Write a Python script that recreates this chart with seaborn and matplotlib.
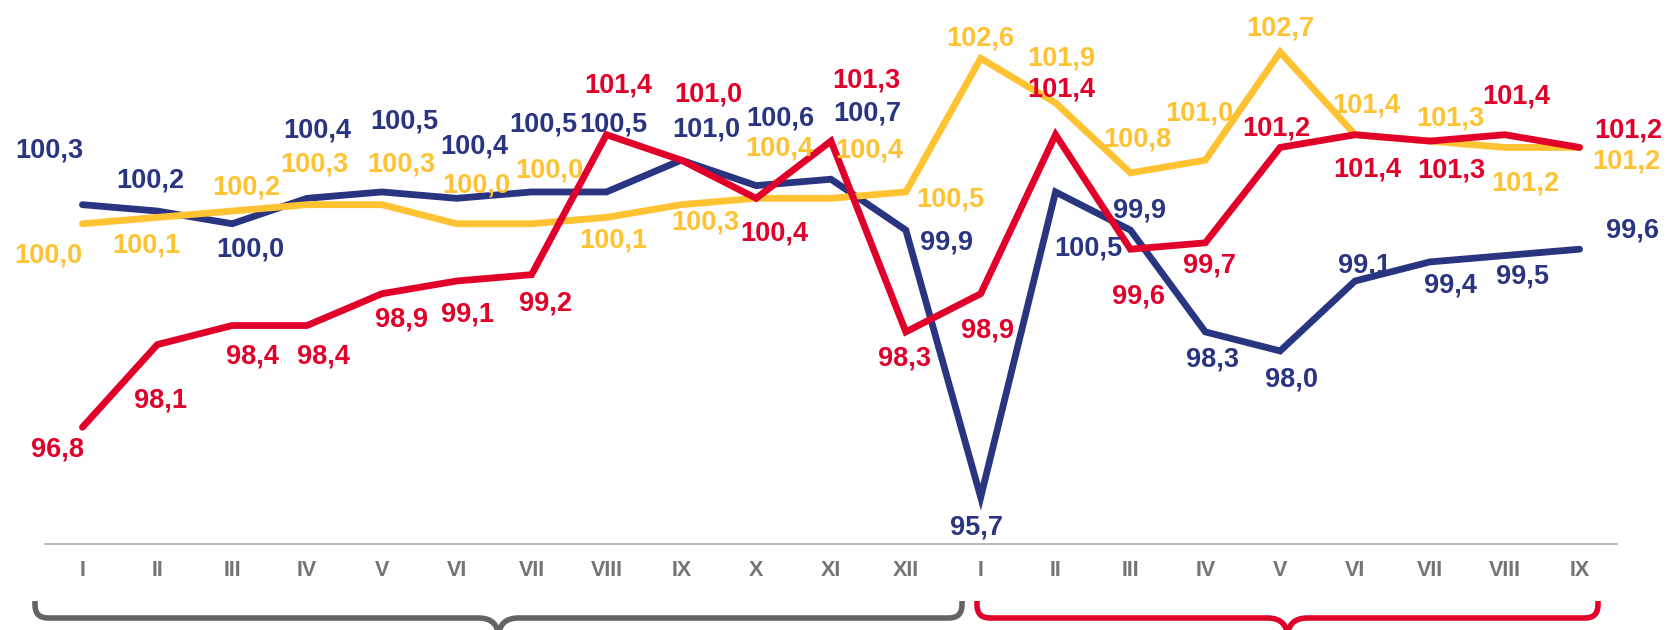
import numpy as np
import pandas as pd
import matplotlib
matplotlib.use('Agg')
import matplotlib.pyplot as plt
import seaborn as sns
from matplotlib.path import Path
from matplotlib.patches import PathPatch

# month labels: one full year, then nine months of the next
months = ["I", "II", "III", "IV", "V", "VI", "VII", "VIII", "IX", "X", "XI", "XII",
          "I", "II", "III", "IV", "V", "VI", "VII", "VIII", "IX"]
navy_vals = [100.3, 100.2, 100.0, 100.4, 100.5, 100.4, 100.5, 100.5, 101.0, 100.6, 100.7, 99.9,
             95.7, 100.5, 99.9, 98.3, 98.0, 99.1, 99.4, 99.5, 99.6]
yellow_vals = [100.0, 100.1, 100.2, 100.3, 100.3, 100.0, 100.0, 100.1, 100.3, 100.4, 100.4, 100.5,
               102.6, 101.9, 100.8, 101.0, 102.7, 101.4, 101.3, 101.2, 101.2]
red_vals = [96.8, 98.1, 98.4, 98.4, 98.9, 99.1, 99.2, 101.4, 101.0, 100.4, 101.3, 98.3,
            98.9, 101.4, 99.6, 99.7, 101.2, 101.4, 101.3, 101.4, 101.2]

# label offsets from each point, in pixels (dx right, dy down) -- placement only
navy_off = [(-33, -57), (-7, -34), (18, 23), (10, -71), (22, -73), (18, -55), (12, -70),
            (7, -70), (25, -34), (24, -70), (36, -69), (41, 9), (-4, 27), (33, 54),
            (9, -23), (7, 25), (11, 26), (10, -19), (21, 21), (18, 18), (53, -22)]
yellow_off = [(-34, 29), (-11, 25), (14, -27), (7, -43), (19, -43), (20, -41), (18, -56),
              (7, 20), (24, 15), (23, -53), (38, -51), (44, 5), (0, -23), (6, -47),
              (7, -36), (-6, -50), (0, -27), (11, -32), (20, -26), (21, 33), (47, 11)]
red_off = [(-25, 19), (3, 53), (20, 28), (16, 28), (20, 23), (11, 30), (14, 26),
           (12, -52), (27, -69), (18, 32), (35, -64), (-1, 24), (7, 34), (6, -48),
           (8, 44), (4, 20), (-4, -22), (12, 32), (21, 26), (12, -41), (49, -20)]

NAVY = '#2a3582'
YELLOW = '#fec232'
RED = '#e1002a'
GRAY_TXT = '#747474'

pos = np.arange(len(months))
df = pd.DataFrame({'pos': pos, 'navy': navy_vals, 'yellow': yellow_vals, 'red': red_vals})

sns.set_style('white')
plt.rcParams['font.family'] = ['Liberation Sans', 'DejaVu Sans']

W, H = 1666, 630
fig = plt.figure(figsize=(W / 100, H / 100), dpi=100)

# axis line sits at y=544 px, data area spans x 45..1617 px
ax_left, ax_right, ax_bottom = 45, 1617, 544
ax = fig.add_axes([ax_left / W, (H - ax_bottom) / H, (ax_right - ax_left) / W, ax_bottom / H])
ax.set_facecolor('none')

px_per_unit = 63.6
y_ref_val, y_ref_px = 102.6, 58.4
ax.set_ylim(y_ref_val - (ax_bottom - y_ref_px) / px_per_unit, y_ref_val + y_ref_px / px_per_unit)
ax.set_xlim(-0.5, len(months) - 0.5)

for col, color, z in [('navy', NAVY, 2), ('yellow', YELLOW, 3), ('red', RED, 4)]:
    sns.lineplot(data=df, x='pos', y=col, color=color, linewidth=4.9, ax=ax, sort=False,
                 solid_joinstyle='miter', solid_capstyle='round', zorder=z)

for vals, offs, color in [(navy_vals, navy_off, NAVY), (yellow_vals, yellow_off, YELLOW),
                          (red_vals, red_off, RED)]:
    for i, (v, (dx, dy)) in enumerate(zip(vals, offs)):
        ax.annotate(f'{v:.1f}'.replace('.', ','), xy=(i, v), xytext=(dx, -(dy + 10)),
                    textcoords='offset pixels', ha='center', va='baseline',
                    fontsize=19.5, fontweight='bold', color=color, zorder=6,
                    annotation_clip=False)

ax.set_xticks(pos)
ax.set_xticklabels(months)
ax.set_xticks(np.arange(-0.5, len(months), 1), minor=True)
ax.tick_params(axis='x', which='major', length=0, pad=11.5, labelsize=15.5,
               labelcolor=GRAY_TXT)
ax.tick_params(axis='x', which='minor', length=5, width=1.1, color='#a5a5a5', direction='out')
for lbl in ax.get_xticklabels():
    lbl.set_fontweight('bold')
ax.set_yticks([])
ax.set_xlabel('')
ax.set_ylabel('')
for s in ['left', 'right', 'top']:
    ax.spines[s].set_visible(False)
ax.spines['bottom'].set_color('#a5a5a5')
ax.spines['bottom'].set_linewidth(1.1)

# braces under the two year groups, drawn in pixel coordinates
ov = fig.add_axes([0, 0, 1, 1])
ov.set_xlim(0, W)
ov.set_ylim(H, 0)
ov.axis('off')
ov.patch.set_alpha(0)


def brace(x0, x1, top, bar, r, rc):
    xc = (x0 + x1) / 2
    verts = [(x0, top), (x0, bar - r), (x0, bar), (x0 + r, bar), (xc - rc, bar), (xc, bar), (xc, bar + rc),
             (x1, top), (x1, bar - r), (x1, bar), (x1 - r, bar), (xc + rc, bar), (xc, bar), (xc, bar + rc)]
    codes = [Path.MOVETO, Path.LINETO, Path.CURVE3, Path.CURVE3, Path.LINETO, Path.CURVE3, Path.CURVE3] * 2
    return Path(verts, codes)


for x0, x1, color in [(35, 962, '#646464'), (977, 1598, RED)]:
    ov.add_patch(PathPatch(brace(x0, x1, 601, 618, 13, 20), facecolor='none', edgecolor=color,
                           lw=4.0, capstyle='butt', joinstyle='round'))

plt.savefig('out.png', dpi=100)
